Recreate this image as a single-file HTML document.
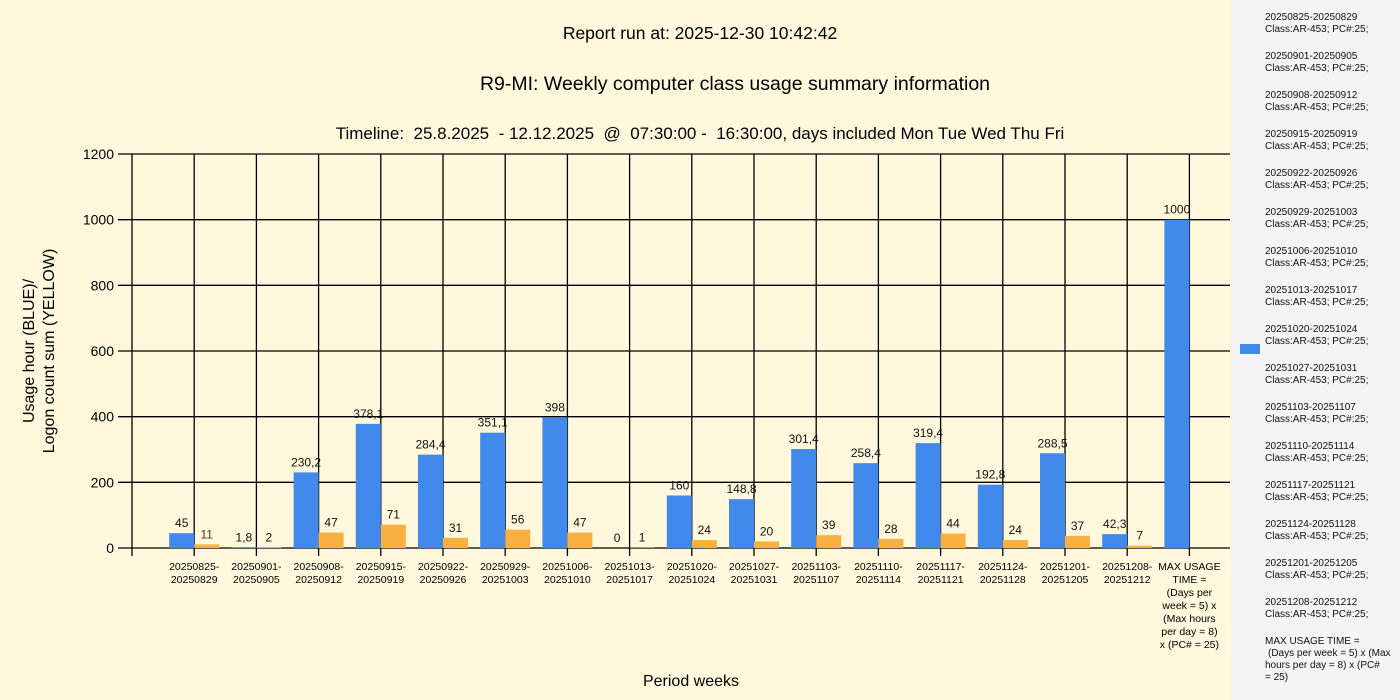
<!DOCTYPE html>
<html><head><meta charset="utf-8"><style>
body{margin:0;width:1400px;height:700px;overflow:hidden;background:#fff8dc;font-family:"Liberation Sans",sans-serif}
svg{display:block}
</style></head><body>
<svg id="c" width="1400" height="700" xmlns="http://www.w3.org/2000/svg">
<rect x="0" y="0" width="1231" height="700" fill="#fff8dc"/>
<rect x="1231" y="0" width="169" height="700" fill="#f4f4f4"/>
<text x="700" y="39" font-size="17.5" text-anchor="middle">Report run at: 2025-12-30 10:42:42</text>
<text x="735" y="90" font-size="19.5" text-anchor="middle">R9-MI: Weekly computer class usage summary information</text>
<text x="700" y="139" font-size="17" text-anchor="middle" xml:space="preserve">Timeline:  25.8.2025  - 12.12.2025  @  07:30:00 -  16:30:00, days included Mon Tue Wed Thu Fri</text>
<text transform="translate(34,351) rotate(-90)" font-size="16" text-anchor="middle">Usage hour (BLUE)/</text>
<text transform="translate(54,351) rotate(-90)" font-size="16" text-anchor="middle">Logon count sum (YELLOW)</text>
<text x="691" y="686" font-size="16" text-anchor="middle">Period weeks</text>
<g id="grid"></g><g id="bars"></g><g id="legend"></g>
</svg>
<script>
const categories=["20250825-20250829","20250901-20250905","20250908-20250912","20250915-20250919","20250922-20250926","20250929-20251003","20251006-20251010","20251013-20251017","20251020-20251024","20251027-20251031","20251103-20251107","20251110-20251114","20251117-20251121","20251124-20251128","20251201-20251205","20251208-20251212","MAX USAGE TIME"];
const usageHours=[45,1.8,230.2,378.1,284.4,351.1,398,0,160,148.8,301.4,258.4,319.4,192.8,288.5,42.3,1000];
const logonCounts=[11,2,47,71,31,56,47,1,24,20,39,28,44,24,37,7,null];
const yTicks=[0,200,400,600,800,1000,1200];
const NS="http://www.w3.org/2000/svg";
const X0=132,XR=1230,Y0=548,YT=154,YMAX=1200,STEP=62.2;
const y=v=>Y0-(v/YMAX)*(Y0-YT);
const xc=i=>X0+(i+1)*STEP;
function mk(tag,attrs,parent,text){const e=document.createElementNS(NS,tag);for(const k in attrs)e.setAttribute(k,attrs[k]);if(text!==undefined)e.textContent=text;parent.appendChild(e);return e;}
const g=document.getElementById('grid'),b=document.getElementById('bars'),lg=document.getElementById('legend');
yTicks.forEach(t=>{
 const l=mk('line',{x1:118,x2:XR,y1:y(t),y2:y(t),stroke:'#000','stroke-width':1.3},g);
 
 
 const tx=mk('text',{x:114,y:y(t)+5,'font-size':14,'text-anchor':'end'},g,String(t));
 
 
});
const ax=mk('line',{x1:X0,x2:X0,y1:YT,y2:556,stroke:'#000','stroke-width':1.3},g);


const fmt=v=>String(v).replace('.',',');
categories.forEach((c,i)=>{
 const x=xc(i);
 const l=mk('line',{x1:x,x2:x,y1:YT,y2:556,stroke:'#000','stroke-width':1.3},g);
 
 
 let lines=c==="MAX USAGE TIME"?["MAX USAGE","TIME =","(Days per","week = 5) x","(Max hours","per day = 8)","x (PC# = 25)"]:[c.split('-')[0]+'-',c.split('-')[1]];
 const t=mk('text',{x:x,'font-size':10.5,'text-anchor':'middle'},g);
 
 
 lines.forEach((s,k)=>mk('tspan',{x:x,y:570+k*13},t,s));
 const v=usageHours[i];
 const r=mk('rect',{x:x-25,y:y(v),width:25,height:Y0-y(v),fill:'#4189ea'},b);
 
 
 const vl=mk('text',{x:x-12.5,y:y(v)-6,'font-size':12,'text-anchor':'middle',fill:'#111'},b,fmt(v));
 
 
 const w=logonCounts[i];
 if(w!==null){
  const r2=mk('rect',{x:x,y:y(w),width:25,height:Y0-y(w),fill:'#f8b040'},b);
  
  
  const wl=mk('text',{x:x+12.5,y:y(w)-6,'font-size':12,'text-anchor':'middle',fill:i<1?'#7a1a10':'#111'},b,String(w));
  
  
 }
});
const sq=mk('rect',{x:1240,y:344,width:20,height:10,fill:'#4189ea'},lg);


categories.forEach((c,i)=>{
 const yy=20+i*39;
 const t=mk('text',{x:1265,'font-size':10,fill:'#111'},lg);
 
 
 let lines=c==="MAX USAGE TIME"?["MAX USAGE TIME =","(Days per week = 5) x (Max","hours per day = 8) x (PC#","= 25)"]:[c,"Class:AR-453; PC#:25;"];
 lines.forEach((s,k)=>mk('tspan',{x:k==1&&c==="MAX USAGE TIME"?1268:1265,y:yy+k*12},t,s));
});
</script>
</body></html>
